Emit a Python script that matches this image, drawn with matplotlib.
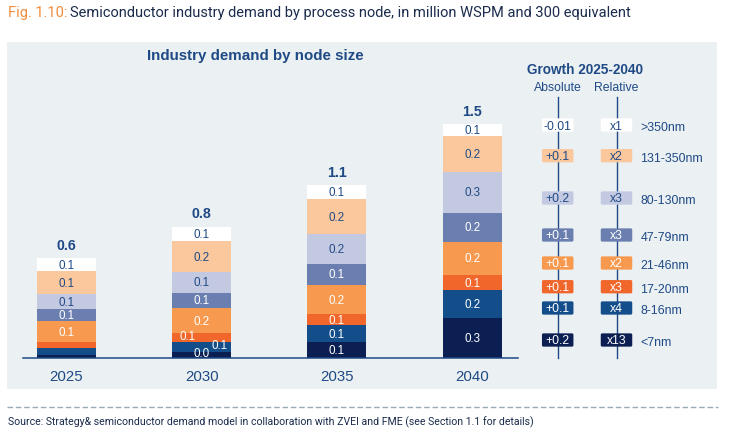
import matplotlib
matplotlib.use("Agg")
import matplotlib.pyplot as plt
from matplotlib.patches import Rectangle, FancyBboxPatch
import numpy as np

# ---------------- data ----------------
years = ["2025", "2030", "2035", "2040"]
nodes = ["<7nm", "8-16nm", "17-20nm", "21-46nm", "47-79nm", "80-130nm", "131-350nm", ">350nm"]  # bottom -> top

d_lt7 = [0.02, 0.04, 0.10, 0.26]
d_8_16 = [0.045, 0.065, 0.11, 0.175]
d_17_20 = [0.04, 0.055, 0.07, 0.10]
d_21_46 = [0.13, 0.16, 0.19, 0.21]
d_47_79 = [0.08, 0.10, 0.135, 0.19]
d_80_130 = [0.095, 0.135, 0.19, 0.26]
d_131_350 = [0.148, 0.195, 0.225, 0.23]
d_gt350 = [0.085, 0.095, 0.09, 0.08]

growth_abs = ["+0.2", "+0.1", "+0.1", "+0.1", "+0.1", "+0.2", "+0.1", "-0.01"]   # bottom -> top
growth_rel = ["x13", "x4", "x3", "x2", "x3", "x3", "x2", "x1"]

demand = [d_lt7, d_8_16, d_17_20, d_21_46, d_47_79, d_80_130, d_131_350, d_gt350]

# ---------------- style ----------------
colors = ["#0B1F52", "#134E8A", "#F0662B", "#F79A50", "#6A7FB0", "#C4C9E2", "#FBC79C", "#FFFFFF"]
dark_text = [False, False, False, False, False, True, True, True]
DARK = "#1F4A85"
PANEL = "#EBF0F3"
FONT = ["Liberation Sans", "DejaVu Sans"]

W, H = 736, 435
fig = plt.figure(figsize=(W / 100, H / 100), dpi=100)
fig.patch.set_facecolor("white")

# overlay axes in pixel coordinates
ov = fig.add_axes([0, 0, 1, 1], zorder=0)
ov.set_xlim(0, W)
ov.set_ylim(H, 0)
ov.axis("off")

ov.add_patch(Rectangle((7, 43), 710, 347, facecolor=PANEL, edgecolor="none"))
ov.plot([7, 718], [408.3, 408.3], color="#9AABB8", lw=1, dashes=(4, 2))

# headline
t1 = ov.text(8, 13, "Fig. 1.10:", color="#F28C3B", fontsize=10.55, family="Roboto",
             va="center", ha="left")
fig.canvas.draw()
bb = t1.get_window_extent()
x_next = bb.x1 + 3
ov.text(x_next, 13, "Semiconductor industry demand by process node, in million WSPM and 300 equivalent",
        color="#1A2B4C", fontsize=10.55, family="Roboto", va="center", ha="left")
ov.text(8, 422, "Source: Strategy& semiconductor demand model in collaboration with ZVEI and FME (see Section 1.1 for details)",
        color="#1A2B4C", fontsize=7.6, family="Roboto", va="center", ha="left")

ov.text(255, 56, "Industry demand by node size", color=DARK, fontsize=10.9, family=FONT,
        fontweight="bold", va="center", ha="center")

# ---------------- bars ----------------
px_per_unit = 155.5
ax_left, ax_right = 23, 518
ax_bottom, ax_top = 359, 100
ax = fig.add_axes([ax_left / W, (H - ax_bottom) / H, (ax_right - ax_left) / W, (ax_bottom - ax_top) / H],
                  zorder=1)
ax.patch.set_alpha(0)
spacing = 135.2
x = np.arange(len(years))
ax.set_xlim((ax_left - 66.5) / spacing, (ax_right - 66.5) / spacing)
ax.set_ylim(0, (ax_bottom - ax_top) / px_per_unit)
bar_w = 59 / spacing

# labels layout: hidden and offset labels (points)
hidden = {(0, 0), (0, 1), (0, 2)}
offsets = {(1, 2): (-10, 1), (1, 1): (13, 1), (1, 0): (0, 1.5)}

bottom = np.zeros(len(years))
for i, vals in enumerate(demand):
    vals = np.array(vals)
    ax.bar(x, vals, bar_w, bottom=bottom, color=colors[i], edgecolor="none")
    for j in range(len(years)):
        if (j, i) in hidden:
            continue
        dx, dy = offsets.get((j, i), (0, 0))
        ax.annotate(f"{vals[j]:.1f}", (x[j], bottom[j] + vals[j] / 2), xytext=(dx, dy),
                    textcoords="offset points", ha="center", va="center",
                    fontsize=8.4, family=FONT,
                    color=DARK if dark_text[i] else "white")
    bottom += vals

for j in range(len(years)):
    ax.annotate(f"{bottom[j]:.1f}", (x[j], bottom[j]), xytext=(0, 9.6), textcoords="offset points",
                ha="center", va="center", fontsize=10.2, fontweight="bold", family=FONT, color=DARK)

for s in ["top", "right", "left"]:
    ax.spines[s].set_visible(False)
ax.spines["bottom"].set_color(DARK)
ax.spines["bottom"].set_linewidth(1.1)
ax.set_yticks([])
ax.set_xticks(x)
ax.set_xticklabels(years, fontsize=10.8, family=FONT, color=DARK)
ax.tick_params(axis="x", length=0, pad=8)

# ---------------- growth legend ----------------
ov.text(527, 70, "Growth 2025-2040", color=DARK, fontsize=9.8, fontweight="bold", family=FONT,
        va="center", ha="left")
col_abs, col_rel = 557.7, 616.5
ov.text(col_abs, 88, "Absolute", color=DARK, fontsize=8.8, family=FONT, va="center", ha="center")
ov.text(col_rel, 88, "Relative", color=DARK, fontsize=8.8, family=FONT, va="center", ha="center")
for cx in (col_abs, col_rel):
    ov.plot([cx, cx], [97.7, 359], color=DARK, lw=1)

row_y = [341, 309, 287.7, 264, 236, 199, 156.7, 126]  # bottom -> top
bw, bh = 31.5, 13.3
for i, node in enumerate(nodes):
    yc = row_y[i]
    tc = DARK if dark_text[i] else "white"
    for cx, txt in ((col_abs, growth_abs[i]), (col_rel, growth_rel[i])):
        ov.add_patch(FancyBboxPatch((cx - bw / 2 + 1.5, yc - bh / 2 + 1.5), bw - 3, bh - 3,
                                    boxstyle="round,pad=1.5", facecolor=colors[i], edgecolor="none",
                                    zorder=3))
        ov.text(cx, yc + 0.5, txt, color=tc, fontsize=8.7, family=FONT, ha="center", va="center", zorder=4)
    ov.text(640.5, yc + 2, node, color=DARK, fontsize=8.9, family=FONT, ha="left", va="center")

fig.savefig("out.png", dpi=100, facecolor="white")
